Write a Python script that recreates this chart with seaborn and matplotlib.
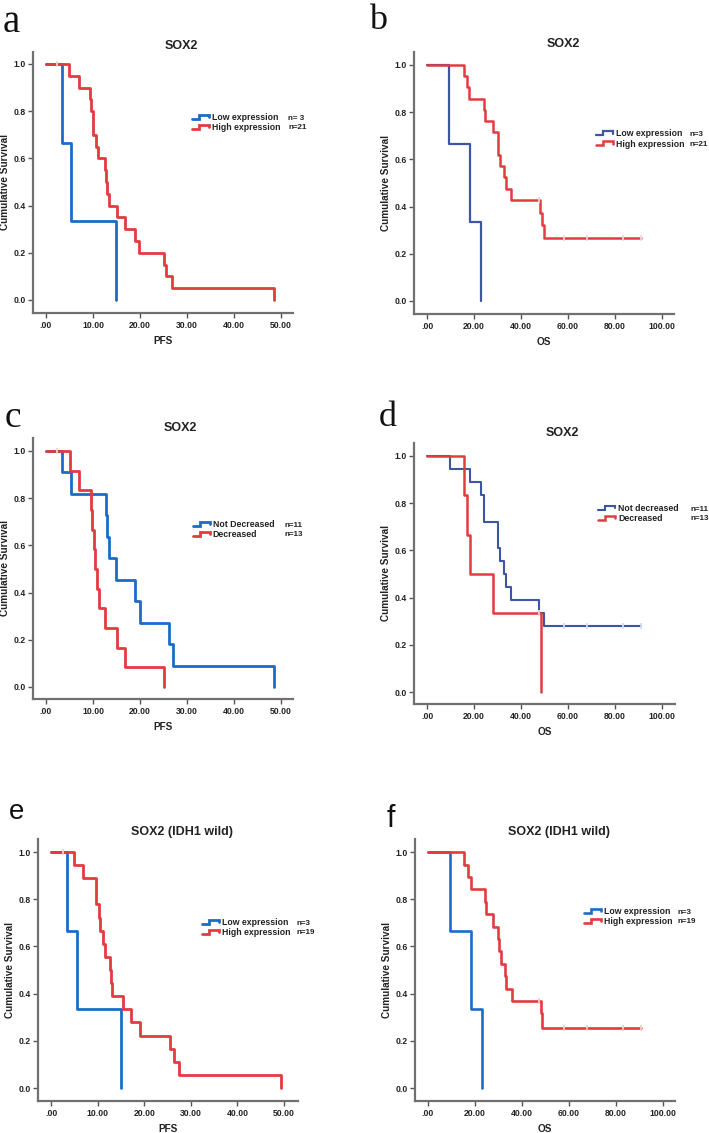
import numpy as np
import pandas as pd
import matplotlib
matplotlib.use("Agg")
import matplotlib.pyplot as plt
import seaborn as sns
from matplotlib.lines import Line2D
from matplotlib.legend_handler import HandlerBase

# ---------------- data ----------------
# Panel a: PFS, SOX2 low vs high expression
a_low_t = [0, 3.5, 5.3, 14.8]
a_low_s = [1.0, 0.667, 0.333, 0.0]
a_high_t = [0, 4.9, 7.0, 9.4, 9.6, 9.9, 10.1, 10.7, 11.0, 12.5, 12.7, 13.0, 13.3,
            15.1, 16.9, 18.9, 19.7, 25.1, 25.6, 26.9, 48.5]
a_high_s = [1.0, 0.95, 0.90, 0.85, 0.80, 0.75, 0.70, 0.65, 0.60, 0.55, 0.50, 0.45,
            0.40, 0.35, 0.30, 0.25, 0.20, 0.15, 0.10, 0.05, 0.0]
a_high_cens_t = [2.3]
a_high_cens_s = [1.0]

# Panel b: OS, SOX2 low vs high expression
b_low_t = [0, 9.3, 18.3, 22.9]
b_low_s = [1.0, 0.667, 0.333, 0.0]
b_high_t = [0, 15.7, 17.1, 18.0, 24.2, 24.5, 27.9, 30.0, 30.3, 31.0, 32.9, 33.6,
            35.7, 48.0, 49.0, 49.7, 91.0]
b_high_s = [1.0, 0.952, 0.905, 0.857, 0.810, 0.762, 0.714, 0.667, 0.619, 0.571,
            0.524, 0.476, 0.429, 0.375, 0.321, 0.268, 0.268]
b_high_cens_t = [47.6, 58.3, 67.9, 83.3, 91.0]
b_high_cens_s = [0.429, 0.268, 0.268, 0.268, 0.268]

# Panel c: PFS, not decreased vs decreased
c_nd_t = [0, 3.3, 5.3, 12.7, 13.0, 13.5, 14.8, 19.0, 19.9, 26.1, 27.0, 48.5]
c_nd_s = [1.0, 0.909, 0.818, 0.727, 0.636, 0.545, 0.455, 0.364, 0.273, 0.182, 0.091, 0.0]
c_d_t = [0, 5.0, 7.0, 9.5, 9.7, 10.2, 10.5, 10.8, 11.2, 12.5, 15.1, 16.9, 25.0]
c_d_s = [1.0, 0.917, 0.833, 0.75, 0.667, 0.583, 0.5, 0.417, 0.333, 0.25, 0.167, 0.083, 0.0]
c_d_cens_t = [2.3]
c_d_cens_s = [1.0]

# Panel d: OS, not decreased vs decreased
d_nd_t = [0, 9.6, 18.3, 22.9, 24.3, 30.1, 31.0, 32.9, 33.6, 35.7, 47.6, 49.7, 91.0]
d_nd_s = [1.0, 0.944, 0.889, 0.833, 0.722, 0.611, 0.556, 0.5, 0.444, 0.389, 0.333, 0.278, 0.278]
d_nd_cens_t = [58.3, 67.9, 83.3, 91.0]
d_nd_cens_s = [0.278, 0.278, 0.278, 0.278]
d_d_t = [0, 15.7, 17.1, 18.3, 27.9, 48.6]
d_d_s = [1.0, 0.833, 0.667, 0.5, 0.333, 0.0]
d_d_cens_t = [47.6]
d_d_cens_s = [0.333]

# Panel e: PFS, IDH1 wild
e_low_t = [0, 3.4, 5.6, 15.0]
e_low_s = [1.0, 0.667, 0.333, 0.0]
e_high_t = [0, 5.0, 6.8, 9.7, 10.4, 10.6, 11.1, 11.5, 12.7, 12.9, 13.1, 15.5, 17.1,
            19.1, 25.6, 26.4, 27.5, 49.3]
e_high_s = [1.0, 0.944, 0.889, 0.778, 0.722, 0.667, 0.611, 0.556, 0.5, 0.444, 0.389,
            0.333, 0.278, 0.222, 0.167, 0.111, 0.056, 0.0]
e_high_cens_t = [2.5]
e_high_cens_s = [1.0]

# Panel f: OS, IDH1 wild
f_low_t = [0, 9.3, 18.3, 22.9]
f_low_s = [1.0, 0.667, 0.333, 0.0]
f_high_t = [0, 15.4, 17.1, 18.3, 24.3, 24.6, 27.6, 29.7, 30.1, 31.1, 32.9, 33.4,
            35.7, 47.9, 48.4, 90.7]
f_high_s = [1.0, 0.947, 0.895, 0.842, 0.789, 0.737, 0.684, 0.632, 0.579, 0.526,
            0.474, 0.421, 0.368, 0.316, 0.253, 0.253]
f_high_cens_t = [47.3, 58.0, 67.6, 83.0, 90.7]
f_high_cens_s = [0.368, 0.253, 0.253, 0.253, 0.253]

pfs_ticks = [0, 10, 20, 30, 40, 50]
pfs_labels = [".00", "10.00", "20.00", "30.00", "40.00", "50.00"]
os_ticks = [0, 20, 40, 60, 80, 100]
os_labels = [".00", "20.00", "40.00", "60.00", "80.00", "100.00"]
y_ticks = [0.0, 0.2, 0.4, 0.6, 0.8, 1.0]
y_labels = ["0.0", "0.2", "0.4", "0.6", "0.8", "1.0"]

# ---------------- styling ----------------
BLUE = "#1a6cc8"
BLUE2 = "#3c55a5"
RED = "#e23b40"
SPINE = "#707070"

sns.set_theme(style="white")
plt.rcParams["font.family"] = ["Liberation Sans", "DejaVu Sans"]

W, H = 709, 1133
fig = plt.figure(figsize=(W / 100, H / 100), dpi=100)
fig.patch.set_facecolor("white")


class StepHandler(HandlerBase):
    def create_artists(self, legend, orig_handle, xdescent, ydescent, width,
                       height, fontsize, trans):
        xs = np.array([0.0, 0.42, 0.42, 1.0, 1.0]) * width - xdescent
        ys = np.array([0.2, 0.2, 0.85, 0.85, 0.45]) * height - ydescent
        ln = Line2D(xs, ys, color=orig_handle.get_color(),
                    lw=orig_handle.get_linewidth(), solid_joinstyle="miter")
        ln.set_transform(trans)
        return [ln]


def make_panel(box, ypx, xpx, xmax, series, xticks, xlabels, xlabel, title,
               title_pos, legend_pos, n_x, leg_labels, n_labels):
    l, r, t, b = box
    ax = fig.add_axes([l / W, 1 - b / H, (r - l) / W, (b - t) / H])
    y1px, y0px = ypx
    x0px, xmpx = xpx
    yunit = y0px - y1px
    xunit = (xmpx - x0px) / xmax
    ax.set_ylim(-(b - y0px) / yunit, 1 + (y1px - t) / yunit)
    ax.set_xlim(-(x0px - l) / xunit, (r - x0px) / xunit)

    handles = []
    for (tt, ss, ct, cs, color, lw, ccol) in series:
        df = pd.DataFrame({"t": tt, "s": ss})
        sns.lineplot(data=df, x="t", y="s", ax=ax, color=color, lw=lw,
                     drawstyle="steps-post", estimator=None, sort=False,
                     legend=False)
        if ct:
            cdf = pd.DataFrame({"t": ct, "s": cs})
            sns.scatterplot(data=cdf, x="t", y="s", ax=ax, marker="|", s=22,
                            color=ccol, linewidth=1.3, zorder=5, legend=False)
        handles.append(Line2D([], [], color=color, lw=lw))

    for side in ("top", "right"):
        ax.spines[side].set_visible(False)
    for side in ("left", "bottom"):
        ax.spines[side].set_color(SPINE)
        ax.spines[side].set_linewidth(1.6)
    ax.set_xticks(xticks)
    ax.set_xticklabels(xlabels)
    ax.set_yticks(y_ticks)
    ax.set_yticklabels(y_labels)
    ax.tick_params(axis="both", which="major", direction="out", length=3.5,
                   width=1.0, color="#555555", labelsize=6.2,
                   labelcolor="#222222", pad=1.5, left=True, bottom=True)
    ax.tick_params(axis="x", pad=2.5)
    for lab in ax.get_xticklabels() + ax.get_yticklabels():
        lab.set_fontweight("bold")

    ax.set_xlabel(xlabel, fontsize=7.2, fontweight="bold", color="#222222")
    ax.set_ylabel("Cumulative Survival", fontsize=7.2, fontweight="bold",
                  color="#222222")
    ax.xaxis.set_label_coords(0.5, -0.088)
    ax.yaxis.set_label_coords(-0.088, 0.5)

    ax.text(title_pos[0], title_pos[1], title, transform=ax.transAxes,
            ha="center", va="center", fontsize=9, fontweight="bold",
            color="#222222")

    lx, ly = legend_pos
    leg_kw = dict(loc="center left", frameon=False, borderpad=0,
                  borderaxespad=0, labelspacing=0.12,
                  prop={"size": 6.3, "weight": "bold"},
                  labelcolor="#222222")
    leg = ax.legend(handles, leg_labels, bbox_to_anchor=(lx, ly),
                    handlelength=1.9, handletextpad=0.35,
                    handler_map={Line2D: StepHandler()}, **leg_kw)
    ax.add_artist(leg)
    blank = [Line2D([], [], alpha=0) for _ in n_labels]
    leg2 = ax.legend(blank, n_labels, bbox_to_anchor=(n_x, ly),
                     handlelength=0, handletextpad=0, **leg_kw)
    for txt in leg2.get_texts():
        txt.set_fontsize(5.8)
    return ax


make_panel((33, 293, 52, 313), (64, 300), (46, 281), 50,
           [(a_low_t, a_low_s, None, None, BLUE, 2.0, None),
            (a_high_t, a_high_s, a_high_cens_t, a_high_cens_s, RED, 2.0, "#f4cfcf")],
           pfs_ticks, pfs_labels, "PFS", "SOX2", (0.569, 1.023),
           (0.612, 0.730), 0.981, ["Low expression", "High expression"],
           ["n= 3", "n=21"])

make_panel((414, 674, 52, 314), (65, 301), (427, 662), 100,
           [(b_low_t, b_low_s, None, None, BLUE2, 1.6, None),
            (b_high_t, b_high_s, b_high_cens_t, b_high_cens_s, RED, 1.8, "#f6d6d6")],
           os_ticks, os_labels, "OS", "SOX2", (0.573, 1.031),
           (0.70, 0.668), 1.058, ["Low expression", "High expression"],
           ["n=3", "n=21"])

make_panel((33, 293, 438, 699), (451, 687), (46, 281), 50,
           [(c_nd_t, c_nd_s, None, None, BLUE, 2.0, None),
            (c_d_t, c_d_s, c_d_cens_t, c_d_cens_s, RED, 2.0, "#f4cfcf")],
           pfs_ticks, pfs_labels, "PFS", "SOX2", (0.565, 1.038),
           (0.615, 0.649), 0.969, ["Not Decreased", "Decreased"],
           ["n=11", "n=13"])

make_panel((414, 675, 443, 704), (456, 692), (427, 662), 100,
           [(d_nd_t, d_nd_s, d_nd_cens_t, d_nd_cens_s, BLUE2, 1.5, "#d3daf0"),
            (d_d_t, d_d_s, d_d_cens_t, d_d_cens_s, RED, 1.8, "#f6d6d6")],
           os_ticks, os_labels, "OS", "SOX2", (0.569, 1.038),
           (0.706, 0.730), 1.058, ["Not decreased", "Decreased"],
           ["n=11", "n=13"])

make_panel((38, 298, 839, 1101), (852, 1088), (51, 284), 50,
           [(e_low_t, e_low_s, None, None, BLUE, 2.0, None),
            (e_high_t, e_high_s, e_high_cens_t, e_high_cens_s, RED, 2.0, "#f4cfcf")],
           pfs_ticks, pfs_labels, "PFS", "SOX2 (IDH1 wild)", (0.552, 1.027),
           (0.631, 0.662), 0.996, ["Low expression", "High expression"],
           ["n=3", "n=19"])

make_panel((415, 675, 839, 1101), (852, 1088), (428, 663), 100,
           [(f_low_t, f_low_s, None, None, BLUE, 1.9, None),
            (f_high_t, f_high_s, f_high_cens_t, f_high_cens_s, RED, 1.9, "#f4cfcf")],
           os_ticks, os_labels, "OS", "SOX2 (IDH1 wild)", (0.555, 1.027),
           (0.65, 0.704), 1.008, ["Low expression", "High expression"],
           ["n=3", "n=19"])

# panel letters
letters = [("a", 3, 32, 28, "Liberation Serif"),
           ("b", 369, 29, 26, "Liberation Serif"),
           ("c", 5, 427, 27, "Liberation Serif"),
           ("d", 379, 426, 26, "Liberation Serif"),
           ("e", 9, 819, 20, "Liberation Sans"),
           ("f", 387, 827, 22, "Liberation Sans")]
for ch, x, y, size, fam in letters:
    fig.text(x / W, 1 - y / H, ch, fontsize=size, family=fam, color="#111111",
             ha="left", va="baseline")

fig.savefig("out.png", dpi=100, facecolor="white")
